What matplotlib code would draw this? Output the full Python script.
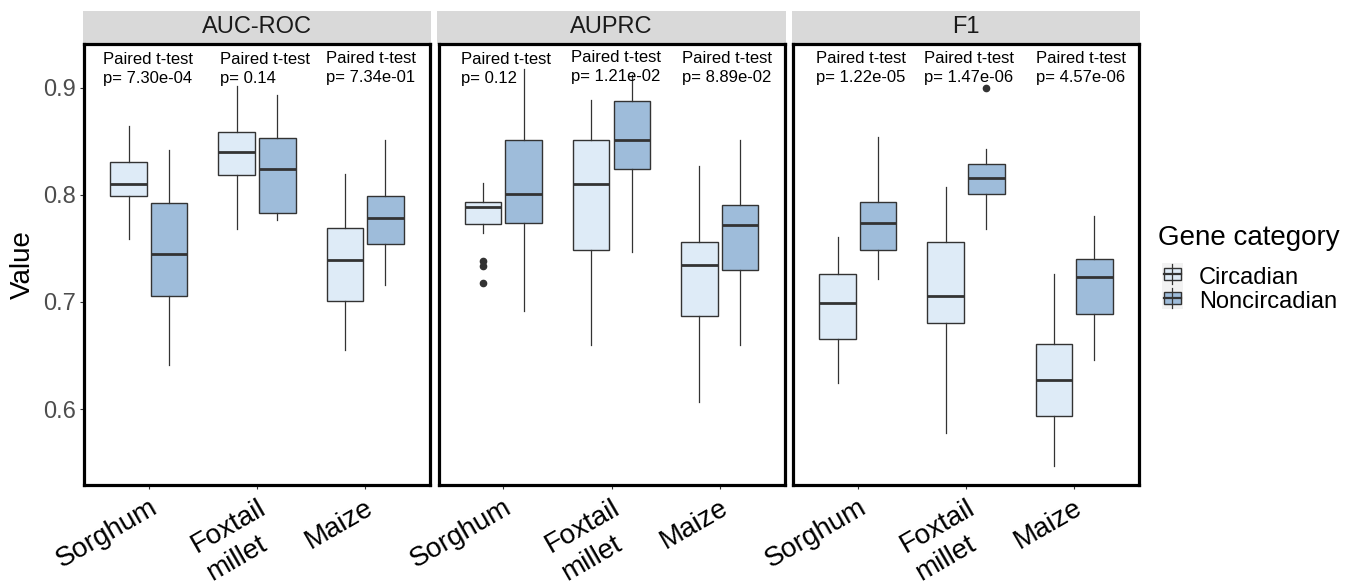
import numpy as np
import matplotlib
matplotlib.use("Agg")
import matplotlib.pyplot as plt
from matplotlib.patches import Rectangle

plt.rcParams['font.family'] = ['Liberation Sans', 'DejaVu Sans']

metrics = ["AUC-ROC", "AUPRC", "F1"]
species = ["Sorghum", "Foxtail\nmillet", "Maize"]
categories = ["Circadian", "Noncircadian"]
colors = ["#DEEBF7", "#9EBCDA"]

# box statistics, one row per metric, one column per species
circ_lo = [[0.759, 0.768, 0.655], [0.764, 0.660, 0.607], [0.624, 0.578, 0.547]]
circ_q1 = [[0.799, 0.819, 0.701], [0.773, 0.749, 0.687], [0.665, 0.680, 0.593]]
circ_med = [[0.810, 0.840, 0.739], [0.789, 0.810, 0.735], [0.699, 0.706, 0.627]]
circ_q3 = [[0.831, 0.859, 0.769], [0.793, 0.851, 0.756], [0.726, 0.756, 0.661]]
circ_hi = [[0.864, 0.902, 0.820], [0.811, 0.889, 0.827], [0.761, 0.807, 0.726]]
circ_out = [[[], [], []], [[0.738, 0.734, 0.718], [], []], [[], [], []]]

non_lo = [[0.641, 0.777, 0.716], [0.692, 0.747, 0.660], [0.721, 0.768, 0.646]]
non_q1 = [[0.706, 0.783, 0.754], [0.774, 0.824, 0.730], [0.749, 0.801, 0.689]]
non_med = [[0.745, 0.824, 0.778], [0.801, 0.851, 0.772], [0.774, 0.816, 0.723]]
non_q3 = [[0.792, 0.853, 0.799], [0.851, 0.888, 0.791], [0.793, 0.829, 0.740]]
non_hi = [[0.842, 0.893, 0.851], [0.918, 0.912, 0.851], [0.854, 0.843, 0.780]]
non_out = [[[], [], []], [[], [], []], [[], [0.900], []]]

pvals = [["7.30e-04", "0.14", "7.34e-01"],
         ["0.12", "1.21e-02", "8.89e-02"],
         ["1.22e-05", "1.47e-06", "4.57e-06"]]

W, H = 1356, 584
fig = plt.figure(figsize=(W / 100, H / 100), dpi=100)


def px_rect(x0, y0, x1, y1):
    return [x0 / W, 1 - y1 / H, (x1 - x0) / W, (y1 - y0) / H]


panel_left = [84, 438.5, 793]
panel_w = 346
top, bottom, strip_top = 44, 485, 10
text_x = [[0.574, 1.657, 2.638], [0.611, 1.627, 2.65], [0.611, 1.614, 2.645]]
text_top = [[0.9335, 0.9335, 0.9345], [0.9335, 0.9355, 0.9345], [0.9345, 0.9345, 0.9345]]

pos = np.arange(1, 4)
for i, m in enumerate(metrics):
    ax = fig.add_axes(px_rect(panel_left[i], top, panel_left[i] + panel_w, bottom))
    groups = [(circ_lo, circ_q1, circ_med, circ_q3, circ_hi, circ_out),
              (non_lo, non_q1, non_med, non_q3, non_hi, non_out)]
    for g, (lo, q1, med, q3, hi, out) in enumerate(groups):
        stats = [dict(whislo=lo[i][j], q1=q1[i][j], med=med[i][j], q3=q3[i][j],
                      whishi=hi[i][j], fliers=out[i][j]) for j in range(3)]
        ax.bxp(stats, positions=pos + (g - 0.5) * 0.375, widths=0.3375,
               patch_artist=True, showcaps=False,
               boxprops=dict(facecolor=colors[g], edgecolor="#333333", linewidth=1.0),
               medianprops=dict(color="#333333", linewidth=2.0, solid_capstyle="butt"),
               whiskerprops=dict(color="#333333", linewidth=0.9),
               flierprops=dict(marker="o", markerfacecolor="#333333",
                               markeredgecolor="#333333", markersize=4.5))
    for j in range(3):
        ax.text(text_x[i][j], text_top[i][j], "Paired t-test\np= " + pvals[i][j],
                ha="left", va="top", fontsize=12, linespacing=1.33, color="black")

    ax.set_xlim(0.4, 3.6)
    ax.set_ylim(0.529, 0.941)
    for s in ax.spines.values():
        s.set_linewidth(2.3)
        s.set_color("black")
    ax.set_xticks(pos)
    ax.set_xticklabels(species, rotation=30, ha="right", va="top",
                       rotation_mode="anchor", fontsize=20, color="black",
                       multialignment="left", linespacing=1.3)
    ax.tick_params(axis="x", length=3, width=0.8, color="#333333", pad=4)
    if i == 0:
        ax.set_yticks([0.6, 0.7, 0.8, 0.9])
        ax.set_yticklabels(["0.6", "0.7", "0.8", "0.9"], fontsize=17, color="#4D4D4D")
        ax.tick_params(axis="y", length=3, width=0.8, color="#333333", pad=3)
    else:
        ax.set_yticks([])

    # facet strip
    h = bottom - top
    ax.add_patch(Rectangle((-0.004, 1.0), 1.008, (bottom - strip_top) / h - 1.0 - 0.002,
                           transform=ax.transAxes, clip_on=False,
                           facecolor="#D9D9D9", edgecolor="none", zorder=0))
    ax.text(0.5, (bottom - (strip_top + top) / 2) / h, m, transform=ax.transAxes,
            ha="center", va="center", fontsize=17, color="#1A1A1A")

fig.text(23 / W, 1 - 265 / H, "Value", rotation=90, fontsize=20, ha="center", va="center")

# legend
lax = fig.add_axes(px_rect(1150, 215, 1356, 315))
lax.set_xlim(1150, 1356)
lax.set_ylim(315, 215)
lax.axis("off")
lax.add_patch(Rectangle((1162, 263), 21, 46, facecolor="#F2F2F2", edgecolor="none"))
key_y = [274, 298]
for g, cat in enumerate(categories):
    cy = key_y[g]
    lax.plot([1172.5, 1172.5], [cy - 10, cy + 10], color="#333333", lw=0.9)
    lax.add_patch(Rectangle((1164, cy - 6), 17, 12, facecolor=colors[g],
                            edgecolor="#333333", lw=1.0))
    lax.plot([1164, 1181], [cy, cy], color="#333333", lw=1.6)
    fig.text(1199 / W, 1 - (cy + 4) / H, cat, fontsize=17, ha="left", va="center")
fig.text(1158 / W, 1 - 238 / H, "Gene category", fontsize=20, ha="left", va="center")

fig.savefig("out.png", dpi=100, facecolor="white")
